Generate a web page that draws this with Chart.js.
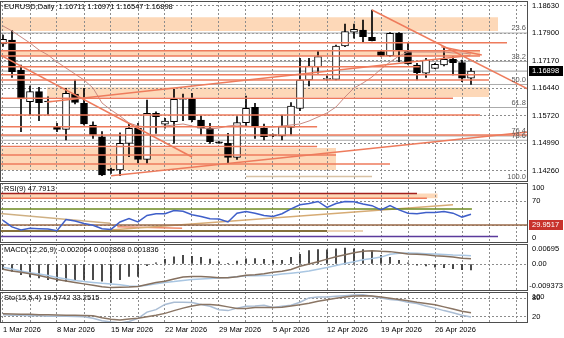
<!DOCTYPE html>
<html>
<head>
<meta charset="utf-8">
<title>EURUSD Daily</title>
<script src="https://cdn.jsdelivr.net/npm/chart.js@4.4.1/dist/chart.umd.min.js"></script>
<style>
  html, body { margin: 0; padding: 0; background: #fff; }
  canvas { position: absolute; left: 0; }
</style>
</head>
<body>
<canvas id="priceChart" width="564" height="183" style="top:0"></canvas>
<canvas id="rsiChart" width="564" height="62" style="top:182px"></canvas>
<canvas id="macdChart" width="564" height="49" style="top:243px"></canvas>
<canvas id="stoChart" width="564" height="47" style="top:291px"></canvas>
<script>
// ---- bars run Sun..Fri, index 0 = 1 Mar 2026 ----
const X_MIN = -1 / 3, X_MAX = 58 + 1 / 3;
const weekLabels = ['1 Mar 2026', '8 Mar 2026', '15 Mar 2026', '22 Mar 2026', '29 Mar 2026',
                    '5 Apr 2026', '12 Apr 2026', '19 Apr 2026', '26 Apr 2026'];
const gridBars = [0, 3, 6, 9, 12, 15, 18, 21, 24, 27, 30, 33, 36, 39, 42, 45, 48, 51, 54, 57];

const opens = [1.17620, 1.17722, 1.16927, 1.16088, 1.16353, 1.16100,
  1.15426, 1.15357, 1.16292, 1.16046, 1.15471, 1.15161,
  1.14298, 1.14279, 1.14986, 1.15384, 1.14563, 1.15781,
  1.15490, 1.15558, 1.16150, 1.16151, 1.15603, 1.15384,
  1.15010, 1.14986, 1.14616, 1.15532, 1.15940, 1.15384,
  1.15200, 1.15180, 1.15410, 1.15913, 1.16663, 1.17015,
  1.16680, 1.16681, 1.17563, 1.17926, 1.17987, 1.17793,
  1.17412, 1.17306, 1.17899, 1.17412, 1.17060, 1.16840,
  1.16972, 1.17060, 1.17211, 1.17121, 1.16711];
const highs = [1.17850, 1.17968, 1.17060, 1.16504, 1.16469, 1.16220,
  1.15516, 1.16443, 1.16663, 1.16443, 1.15558, 1.15294,
  1.14333, 1.15267, 1.15516, 1.15516, 1.16133, 1.15823,
  1.15649, 1.16416, 1.16292, 1.16310, 1.15709, 1.15516,
  1.15030, 1.15251, 1.15691, 1.16239, 1.16046, 1.15498,
  1.15230, 1.15736, 1.16062, 1.17237, 1.17237, 1.17412,
  1.16770, 1.17589, 1.18145, 1.18145, 1.18251, 1.18516,
  1.17440, 1.17915, 1.17915, 1.17634, 1.17105, 1.17237,
  1.17105, 1.17544, 1.17280, 1.17192, 1.16971];
const lows = [1.17550, 1.16734, 1.15294, 1.15736, 1.15585, 1.15736,
  1.15294, 1.15074, 1.16027, 1.15471, 1.15119, 1.14128,
  1.14192, 1.14128, 1.14632, 1.14465, 1.14456, 1.15251,
  1.15384, 1.14986, 1.15585, 1.15558, 1.15206, 1.14986,
  1.14986, 1.14474, 1.14563, 1.15426, 1.15119, 1.15074,
  1.15160, 1.15074, 1.15206, 1.15850, 1.16504, 1.16840,
  1.16650, 1.16663, 1.17544, 1.17767, 1.17677, 1.17695,
  1.17280, 1.17280, 1.17147, 1.17078, 1.16663, 1.16734,
  1.16960, 1.17033, 1.16795, 1.16618, 1.16547];
const closes = [1.17740, 1.16882, 1.16159, 1.16353, 1.16062, 1.16080,
  1.15357, 1.16310, 1.16072, 1.15498, 1.15206, 1.14147,
  1.14271, 1.14986, 1.15384, 1.14563, 1.15781, 1.15691,
  1.15577, 1.16151, 1.16160, 1.15603, 1.15384, 1.15029,
  1.15000, 1.14616, 1.15532, 1.15913, 1.15426, 1.15161,
  1.15190, 1.15426, 1.15974, 1.16663, 1.17033, 1.17280,
  1.16690, 1.17563, 1.17942, 1.18005, 1.17809, 1.17703,
  1.17306, 1.17899, 1.17457, 1.17086, 1.16856, 1.17192,
  1.17078, 1.17211, 1.17121, 1.16711, 1.16898];
const maValues = [1.18092, 1.17960, 1.17801, 1.17642, 1.17457, 1.17324,
  1.17139, 1.16980, 1.16821, 1.16663, 1.16451, 1.16054,
  1.15868, 1.15709, 1.15524, 1.15445, 1.15418, 1.15418,
  1.15445, 1.15471, 1.15498, 1.15445, 1.15392, 1.15365,
  1.15392, 1.15445, 1.15471, 1.15445, 1.15418, 1.15418,
  1.15418, 1.15445, 1.15471, 1.15498, 1.15577, 1.15683,
  1.15789, 1.15948, 1.16213, 1.16451, 1.16583, 1.16742,
  1.16954, 1.17139, 1.17298, 1.17404, 1.17404, 1.17404,
  1.17404, 1.17404, 1.17378, 1.17378, 1.17351];

const priceTicks = [1.14260, 1.14990, 1.15720, 1.16440, 1.17170, 1.17900, 1.18630];
const fibHigh = 1.19125, fibLow = 1.13962;
const fibLevels = [23.6, 38.2, 50.0, 61.8, 76.4, 78.6, 100.0];

// [first bar, last bar, lower price, upper price]
const priceZones = [
  [X_MIN, 55, 1.17960, 1.18323],
  [X_MIN, 53, 1.17298, 1.17438],
  [4.9, 54, 1.16213, 1.16469],
  [X_MIN, 37, 1.14280, 1.14862]
];
// [price, last bar] - drawn from the left edge
const levelLines = [
  [1.17650, 56], [1.17438, 53], [1.17298, 53], [1.17015, 46.3], [1.16803, 54],
  [1.16663, 54], [1.16178, 50], [1.15736, 53], [1.15426, 34.9], [1.15206, X_MAX],
  [1.14902, 34.9], [1.14677, 37], [1.14438, 43]
];
// [bar, price, bar, price]
const trendLines = [
  [X_MIN, 1.17325, 21, 1.14624],
  [41, 1.18516, X_MAX, 1.16424],
  [12, 1.14128, X_MAX, 1.15286],
  [4.9, 1.16080, 51.9, 1.17311],
  [48.7, 1.17544, 53.2, 1.17325]
];
const tanSegment = [27, 1.14107, 41, 1.14107];

const rsiValues = [37.8, 26.9, 21.6, 24.4, 23.7, 23.2,
  20.5, 39.0, 36.7, 32.5, 29.7, 23.7,
  22.7, 35.1, 40.6, 35.1, 45.9, 48.7,
  48.7, 54.1, 52.9, 47.1, 44.3, 40.6,
  39.9, 35.1, 49.7, 52.4, 49.7, 45.9,
  44.3, 48.7, 56.8, 63.8, 65.9, 69.2,
  59.4, 65.9, 69.2, 68.7, 64.9, 62.2,
  55.2, 62.2, 55.2, 49.7, 48.7, 50.8,
  50.8, 52.4, 49.7, 43.2, 47.7913];
const rsiMarker = 29.9517;
// [value, last bar, colour]
const rsiLevels = [[82.5, 46, '#a3201c'], [74.4, 47.1, '#ef7a5a'], [56.5, 52.1, '#6d8a1f'],
  [rsiMarker, X_MAX, '#9a6a48'], [11.0, 55, '#5b3a9c']];
const rsiZone = [X_MIN, 48.3, 74.4, 82.5];
const rsiTrends = [
  [X_MIN, 49.2, 11.9, 33.0, '#cfb083'],
  [11.9, 21.6, 50.0, 63.8, '#d6ab74'],
  [12.7, 26.9, 19.9, 24.4, '#ef8a6a']
];
const rsiBrownBar = [X_MIN, 36, 20.0];

const macdHist = [-0.0018, -0.0026, -0.0037, -0.0045, -0.0048, -0.0054,
  -0.0060, -0.0060, -0.0054, -0.0054, -0.0054, -0.0060,
  -0.0065, -0.0054, -0.0043, -0.0043, -0.0006, 0.0004,
  0.0016, 0.0025, 0.0030, 0.0027, 0.0023, 0.0017,
  0.0008, 0.0002, 0.0010, 0.0018, 0.0019, 0.0016,
  0.0013, 0.0013, 0.0023, 0.0034, 0.0047, 0.0050,
  0.0049, 0.0053, 0.0055, 0.0053, 0.0050, 0.0045,
  0.0030, 0.0023, 0.0013, 0.0004, -0.0004, -0.0007,
  -0.0011, -0.0013, -0.0016, -0.0020, -0.002064];
const macdMain = [-0.0011, -0.0017, -0.0024, -0.0030, -0.0035, -0.0040,
  -0.0047, -0.0052, -0.0057, -0.0061, -0.0064, -0.0067,
  -0.0069, -0.0072, -0.0076, -0.0077, -0.0074, -0.0069,
  -0.0064, -0.0061, -0.0057, -0.0054, -0.0052, -0.0050,
  -0.0049, -0.0047, -0.0044, -0.0041, -0.0041, -0.0040,
  -0.0039, -0.0035, -0.0032, -0.0029, -0.0024, -0.0018,
  -0.0012, -0.0005, 0.0002, 0.0008, 0.0015, 0.0019,
  0.0024, 0.0034, 0.0037, 0.0038, 0.0037, 0.0036,
  0.0035, 0.0033, 0.0031, 0.0030, 0.002868];
const macdSignal = [-0.0018, -0.0024, -0.0029, -0.0034, -0.0040, -0.0047,
  -0.0054, -0.0059, -0.0064, -0.0069, -0.0074, -0.0079,
  -0.0082, -0.0081, -0.0080, -0.0078, -0.0071, -0.0064,
  -0.0060, -0.0052, -0.0045, -0.0043, -0.0043, -0.0045,
  -0.0048, -0.0048, -0.0044, -0.0039, -0.0037, -0.0034,
  -0.0029, -0.0025, -0.0019, -0.0008, 0.0000, 0.0008,
  0.0017, 0.0025, 0.0032, 0.0039, 0.0044, 0.0046,
  0.0044, 0.0043, 0.0039, 0.0035, 0.0034, 0.0032,
  0.0029, 0.0027, 0.0024, 0.0020, 0.001836];
const macdMax = 0.00695, macdMin = -0.009373;

const stoMain = [27, 25, 25, 23, 23, 22,
  22, 22, 21, 20, 15, 7,
  3, 0, 5, 15, 35, 43,
  60, 67, 67, 66, 60, 54,
  43, 40, 48, 54, 55, 57,
  50, 54, 57, 67, 81, 84,
  84, 86, 88, 90, 91, 86,
  81, 76, 73, 67, 63, 55,
  48, 40, 33, 25, 19.5742];
const stoSignal = [30, 29, 28, 28, 27, 27,
  26, 25, 25, 24, 23, 17,
  12, 10, 13, 15, 20, 25,
  31, 40, 48, 55, 60, 60,
  57, 52, 47, 47, 50, 50,
  50, 51, 55, 59, 64, 70,
  75, 80, 84, 87, 88, 87,
  84, 80, 76, 72, 67, 63,
  59, 52, 45, 38, 33.2515];

// ---- styling ----
const FONT_FAMILY = '"Liberation Sans", Arial, sans-serif';
const FONT = '7.5px ' + FONT_FAMILY;
const GRID = '#8c8c8c';
const ORANGE = '#ee7b5c';
const ZONE = '#fdd8b8';
Chart.defaults.font.family = FONT_FAMILY;
Chart.defaults.font.size = 7.5;

const series = arr => arr.map((v, i) => ({ x: i, y: v }));
const seg = (x1, y1, x2, y2) => [{ x: x1, y: y1 }, { x: x2, y: y2 }];

function lineSet(data, color, width, order) {
  return { type: 'line', data, borderColor: color, borderWidth: width, pointRadius: 0,
           fill: false, tension: 0, order };
}
function zoneSet(x1, x2, lo, hi, color) {
  return { type: 'line', data: seg(x1, hi, x2, hi), borderColor: 'rgba(0,0,0,0)', borderWidth: 1,
           pointRadius: 0, order: 9, fill: { target: { value: lo }, above: color, below: color } };
}

// frame, captions and right-hand scale labels (kept inside each pane like the terminal does)
const paneDecor = {
  id: 'paneDecor',
  afterDraw(chart, args, opts) {
    const { ctx, chartArea: a } = chart;
    const y = chart.scales.y;
    ctx.save();
    ctx.font = FONT;
    (opts.tags || []).forEach(t => {
      const py = y.getPixelForValue(t.value);
      ctx.fillStyle = '#5a5a5a';
      ctx.textAlign = 'right';
      ctx.textBaseline = 'bottom';
      ctx.fillText(t.text, a.right - 2, py - 1);
    });
    ctx.strokeStyle = '#4e4e4e';
    ctx.lineWidth = 1;
    ctx.strokeRect(a.left + 0.5, a.top + 0.5, a.right - a.left - 1, a.bottom - a.top - 1);
    if (opts.caption) {
      ctx.fillStyle = '#000';
      ctx.textAlign = 'left';
      ctx.textBaseline = 'middle';
      ctx.fillText(opts.caption, a.left + 4, a.top + 6);
    }
    (opts.labels || []).forEach(l => {
      let py = y.getPixelForValue(l.value);
      py = Math.min(Math.max(py, a.top + 5), a.bottom - 5);
      if (l.bg) {
        ctx.fillStyle = l.bg;
        ctx.fillRect(a.right + 1, Math.round(py) - 5, chart.width - a.right - 2, 10);
      }
      const w = ctx.measureText(l.text).width;
      const tx = Math.min(a.right + 4, chart.width - w - 1);
      ctx.fillStyle = l.color || '#000';
      ctx.textAlign = 'left';
      ctx.textBaseline = 'middle';
      ctx.fillText(l.text, tx, py);
    });
    ctx.restore();
  }
};

function timeAxis(showLabels) {
  return {
    type: 'linear', min: X_MIN, max: X_MAX, offset: false,
    afterBuildTicks: s => { s.ticks = gridBars.map(v => ({ value: v })); },
    ticks: {
      display: showLabels, autoSkip: false, maxRotation: 0, align: 'start', padding: 2, color: '#000',
      callback: v => (v % 6 === 0 && weekLabels[v / 6]) ? weekLabels[v / 6] : ''
    },
    grid: { color: GRID, drawTicks: false, offset: false },
    border: { display: false, dash: [2, 2] }
  };
}
function valueAxis(min, max, gridAt) {
  return {
    type: 'linear', position: 'right', min, max,
    afterFit: s => { s.width = 36; },
    afterBuildTicks: s => { s.ticks = gridAt.map(v => ({ value: v })); },
    ticks: { display: false },
    grid: { color: GRID, drawTicks: false },
    border: { display: false, dash: [2, 2] }
  };
}
function makeChart(id, datasets, yAxis, showTime, decor) {
  return new Chart(document.getElementById(id), {
    type: 'bar',
    data: { datasets },
    options: {
      responsive: false,
      animation: false,
      layout: { padding: { top: 1, bottom: showTime ? 2 : 1, left: 0, right: 0 } },
      scales: { x: timeAxis(showTime), y: yAxis },
      plugins: {
        legend: { display: false },
        tooltip: { enabled: false },
        filler: { drawTime: 'beforeDraw' },
        paneDecor: decor
      }
    },
    plugins: [paneDecor]
  });
}

// ---- price pane ----
const last = closes.length - 1;
const priceSets = [];
priceZones.forEach(z => priceSets.push(zoneSet(z[0], z[1], z[2], z[3], ZONE)));
fibLevels.forEach(f => {
  const v = fibHigh - (fibHigh - fibLow) * f / 100;
  priceSets.push(lineSet(seg(X_MIN, v, X_MAX, v), '#ababab', 1, 6));
});
priceSets.push(lineSet(seg(X_MIN, closes[last], X_MAX, closes[last]), '#9c9c9c', 1, 6));
priceSets.push({
  label: 'wicks', data: highs.map((h, i) => ({ x: i, y: [lows[i], h] })),
  backgroundColor: '#000', barThickness: 1, grouped: false, order: 3
});
priceSets.push({
  label: 'bodies', data: opens.map((o, i) => ({ x: i, y: [o, closes[i]] })),
  backgroundColor: opens.map((o, i) => closes[i] >= o ? '#fff' : '#000'),
  borderColor: '#000', borderWidth: 1, borderSkipped: false, minBarLength: 1,
  barThickness: 7, grouped: false, order: 2
});
priceSets.push(lineSet(series(maValues), '#c98a82', 1, 1));
priceSets.push(lineSet(seg(tanSegment[0], tanSegment[1], tanSegment[2], tanSegment[3]), '#d9c2a4', 1.5, 1));
levelLines.forEach(l => priceSets.push(lineSet(seg(X_MIN, l[0], l[1], l[0]), ORANGE, 1.5, 0)));
trendLines.forEach(t => priceSets.push(lineSet(seg(t[0], t[1], t[2], t[3]), ORANGE, 1.5, 0)));

makeChart('priceChart', priceSets, valueAxis(1.13962, 1.18754, priceTicks), false, {
  caption: `EURUSD,Daily  ${opens[last].toFixed(5)} ${highs[last].toFixed(5)} ${lows[last].toFixed(5)} ${closes[last].toFixed(5)}`,
  tags: fibLevels.map(f => ({ value: fibHigh - (fibHigh - fibLow) * f / 100, text: f.toFixed(1) })),
  labels: priceTicks.map(v => ({ value: v, text: v.toFixed(5) }))
    .concat([{ value: closes[last], text: closes[last].toFixed(5), bg: '#000', color: '#fff' }])
});

// ---- RSI pane ----
const rsiSets = [zoneSet(rsiZone[0], rsiZone[1], rsiZone[2], rsiZone[3], ZONE)];
rsiLevels.forEach(l => rsiSets.push(lineSet(seg(X_MIN, l[0], l[1], l[0]), l[2], 1.5, 2)));
rsiSets.push(lineSet(seg(rsiBrownBar[1], rsiBrownBar[2], 40, rsiBrownBar[2]), '#ecd2b4', 2, 3));
rsiSets.push(lineSet(seg(rsiBrownBar[0], rsiBrownBar[2], rsiBrownBar[1], rsiBrownBar[2]), '#86703c', 2, 2));
rsiTrends.forEach(t => rsiSets.push(lineSet(seg(t[0], t[1], t[2], t[3]), t[4], 1.5, 2)));
rsiSets.push(lineSet(series(rsiValues), '#3f5fc9', 1.5, 0));

makeChart('rsiChart', rsiSets, valueAxis(0, 100, [30, 70]), false, {
  caption: `RSI(9) ${rsiValues[last].toFixed(4)}`,
  labels: [{ value: 100, text: '100' }, { value: 70, text: '70' }, { value: 0, text: '0' },
           { value: rsiMarker, text: rsiMarker.toFixed(4), bg: '#c8322c', color: '#fff' }]
});

// ---- MACD pane ----
const macdSets = [
  { label: 'histogram', data: series(macdHist), backgroundColor: '#262626', barThickness: 1, grouped: false, order: 2 },
  lineSet(series(macdMain), '#a9c6e2', 1.5, 1),
  lineSet(series(macdSignal), '#85705f', 1.5, 0)
];
makeChart('macdChart', macdSets, valueAxis(macdMin, macdMax, [0]), false, {
  caption: `MACD(12,26,9) ${macdHist[last].toFixed(6)} ${macdMain[last].toFixed(6)} ${macdSignal[last].toFixed(6)}`,
  labels: [{ value: macdMax, text: macdMax.toFixed(5) }, { value: 0, text: '0.00' },
           { value: macdMin, text: macdMin.toFixed(6) }]
});

// ---- Stochastic pane ----
const stoSets = [
  lineSet(series(stoMain), '#aabdd4', 1.5, 1),
  lineSet(series(stoSignal), '#8a7564', 1.5, 0)
];
makeChart('stoChart', stoSets, valueAxis(0, 100, [20, 80]), true, {
  caption: `Sto(15,5,4) ${stoMain[last].toFixed(4)} ${stoSignal[last].toFixed(4)}`,
  labels: [{ value: 100, text: '100' }, { value: 80, text: '80' }, { value: 20, text: '20' }]
});
</script>
</body>
</html>
